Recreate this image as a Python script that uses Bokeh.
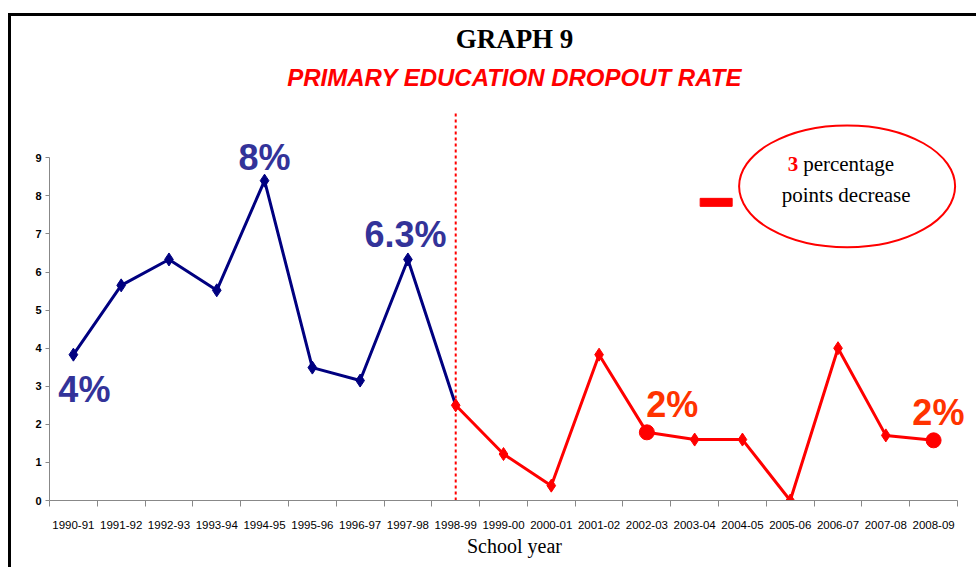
from bokeh.plotting import figure
from bokeh.models import Range1d, FixedTicker, Title
from bokeh.core.properties import value
from bokeh.embed import file_html
from bokeh.resources import INLINE

# ---------------- data ----------------
years = ["1990-91", "1991-92", "1992-93", "1993-94", "1994-95", "1995-96",
         "1996-97", "1997-98", "1998-99", "1999-00", "2000-01", "2001-02",
         "2002-03", "2003-04", "2004-05", "2005-06", "2006-07", "2007-08",
         "2008-09"]
rates = [3.83, 5.65, 6.33, 5.52, 8.40, 3.49, 3.15, 6.33, 2.50, 1.22, 0.39,
         3.83, 1.79, 1.60, 1.60, 0.00, 4.00, 1.71, 1.58]
split_idx = 8                 # 1998-99: start of the second period
highlight_idx = [12, 18]      # 2002-03 and 2008-09
y_ticks = [0, 1, 2, 3, 4, 5, 6, 7, 8, 9]

ann_idx = [0, 4, 7, 12, 18]
ann_text = ["4%", "8%", "6.3%", "2%", "2%"]

title_text = "GRAPH 9"
subtitle_text = "PRIMARY EDUCATION DROPOUT RATE"
xlabel_text = "School year"
bubble_num = "3"
bubble_line1 = "percentage"
bubble_line2 = "points decrease"

# ---------------- styling / layout ----------------
BLUE = "#000080"
RED = "#FF0000"
LBLUE = "#333399"
ORANGE = "#FF3300"

W, H = 968, 554
LEFT, TOP, BOTTOM = 38, 76, 70
PX_PER_CAT = 908 / 19
PX_PER_UNIT = 342.7 / 9
x_end = -0.5 + (W - LEFT) / PX_PER_CAT
y_end = (H - TOP - BOTTOM) / PX_PER_UNIT

xs = list(range(len(years)))

p = figure(width=W, height=H, output_backend="svg", toolbar_location=None,
           title=None,
           x_range=Range1d(-0.5, x_end), y_range=Range1d(0, y_end),
           min_border_left=LEFT, min_border_right=0, min_border_top=TOP,
           min_border_bottom=BOTTOM)
p.styles = {"border-top": "3px solid black", "border-left": "3px solid black",
            "margin-top": "13px", "margin-left": "8px"}
p.outline_line_color = None
p.xgrid.grid_line_color = None
p.ygrid.grid_line_color = None
p.background_fill_color = "white"
p.border_fill_color = "white"

# titles
p.add_layout(Title(text=subtitle_text, text_font="Liberation Sans",
                   text_font_size="24px", text_font_style="bold italic",
                   text_color=RED, align="center", standoff=3), "above")
p.add_layout(Title(text=title_text, text_font="Liberation Serif",
                   text_font_size="27px", text_font_style="bold",
                   text_color="black", align="center", standoff=10,
                   vertical_align="top"), "above")

# axes
xa = p.xaxis[0]
xa.ticker = FixedTicker(ticks=xs, minor_ticks=[i - 0.5 for i in range(len(years) + 1)])
xa.bounds = (-0.5, len(years) - 0.5)
xa.major_label_overrides = {i: y for i, y in enumerate(years)}
xa.major_tick_line_color = None
xa.major_tick_out = 6
xa.major_tick_in = 0
xa.minor_tick_line_color = "#888888"
xa.minor_tick_out = 6
xa.minor_tick_in = 0
xa.axis_line_color = "#888888"
xa.major_label_text_font = "Liberation Sans"
xa.major_label_text_font_size = "11.5px"
xa.major_label_text_color = "black"
xa.major_label_standoff = 14
xa.axis_label = xlabel_text
xa.axis_label_text_font = "Liberation Serif"
xa.axis_label_text_font_size = "20px"
xa.axis_label_text_font_style = "normal"
xa.axis_label_text_color = "black"
xa.axis_label_standoff = 3

ya = p.yaxis[0]
ya.ticker = FixedTicker(ticks=y_ticks)
ya.bounds = (0, 9)
ya.axis_line_color = "#888888"
ya.major_tick_line_color = "#888888"
ya.major_tick_out = 4
ya.major_tick_in = 0
ya.minor_tick_line_color = None
ya.major_label_text_font = "Liberation Sans"
ya.major_label_text_font_size = "11px"
ya.major_label_text_font_style = "bold"
ya.major_label_text_color = "black"
ya.major_label_standoff = 4

# dotted separator at the split year
p.segment(x0=[split_idx], y0=[0], x1=[split_idx], y1=[10.2],
          line_color=RED, line_width=2, line_dash="3 3")

# first period (blue)
bx = xs[:split_idx + 1]
by = rates[:split_idx + 1]
p.line(bx, by, line_color=BLUE, line_width=3)
p.scatter(bx[:-1], by[:-1], marker="diamond", size=13, color=BLUE)

# second period (red)
rx = xs[split_idx:]
ry = rates[split_idx:]
p.line(rx, ry, line_color=RED, line_width=3)
p.scatter(rx, ry, marker="diamond", size=13, color=RED)
p.scatter([xs[i] for i in highlight_idx], [rates[i] for i in highlight_idx],
          marker="circle", size=15, color=RED)

# value annotations
dx = [0.23, 0.0, -0.05, 0.53, 0.1]
dy = [-0.92, 0.6, 0.65, 0.72, 0.72]
ax = [xs[i] + d for i, d in zip(ann_idx, dx)]
ay = [rates[i] + d for i, d in zip(ann_idx, dy)]
acol = [LBLUE, LBLUE, LBLUE, ORANGE, ORANGE]
p.text(x=ax, y=ay, text=ann_text, text_color=acol,
       text_font=value("Liberation Sans"), text_font_size="36px",
       text_font_style="bold", text_align="center", text_baseline="middle")

# bubble with "3 percentage points decrease"
ex, ey = 16.19, 8.25
p.ellipse(x=[ex], y=[ey], width=216, height=122, width_units="screen",
          height_units="screen", fill_color="white", line_color=RED, line_width=2)
p.text(x=[15.17], y=[8.85], text=[bubble_num], text_color=RED,
       text_font=value("Liberation Serif"), text_font_size="21px",
       text_font_style="bold", text_align="right", text_baseline="middle")
p.text(x=[15.27], y=[8.85], text=[bubble_line1], text_color="black",
       text_font=value("Liberation Serif"), text_font_size="21px",
       text_align="left", text_baseline="middle")
p.text(x=[16.17], y=[8.01], text=[bubble_line2], text_color="black",
       text_font=value("Liberation Serif"), text_font_size="21px",
       text_align="center", text_baseline="middle")
p.rect(x=[13.45], y=[7.83], width=32, height=8, width_units="screen",
       height_units="screen", color=RED)

open("out.html", "w").write(file_html(p, INLINE))
